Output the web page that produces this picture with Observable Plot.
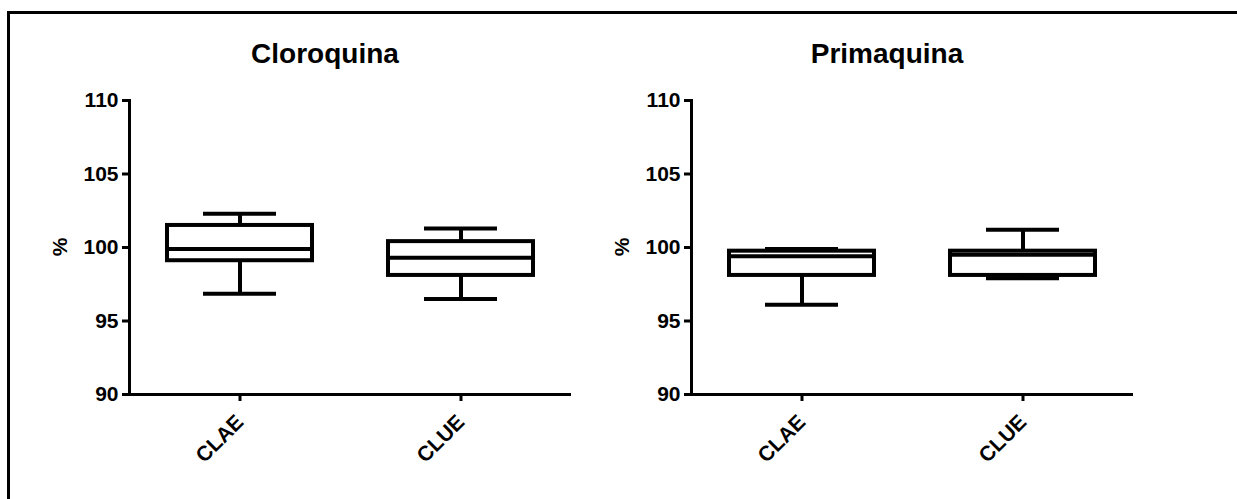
<!DOCTYPE html>
<html>
<head>
<meta charset="utf-8">
<script src="https://cdn.jsdelivr.net/npm/d3@7"></script>
<script src="https://cdn.jsdelivr.net/npm/@observablehq/plot@0.6"></script>
<style>
  html, body { margin: 0; padding: 0; background: white; overflow: hidden; }
  #root { position: relative; width: 1237px; height: 499px; overflow: hidden; font-family: "Liberation Sans", Arial, sans-serif; }
  #frameTop { position: absolute; left: 7px; top: 11px; width: 1230px; height: 3px; background: black; }
  #frameLeft { position: absolute; left: 7px; top: 11px; width: 3px; height: 488px; background: black; }
  .title { position: absolute; top: 40px; width: 300px; text-align: center; font-size: 28px; font-weight: bold; line-height: 27px; color: black; }
  .ylab { position: absolute; width: 40px; text-align: center; font-size: 21px; font-weight: bold; line-height: 21px; transform: translate(-50%, -50%) rotate(-90deg); color: black; }
  .panel { position: absolute; top: 0; max-width: none !important; }
</style>
</head>
<body>
<div id="root"><div id="frameTop"></div><div id="frameLeft"></div></div>
<script>
// ---- data ----
const panels = ["Cloroquina", "Primaquina"];
const categories = ["CLAE", "CLUE"];
const yTicks = [90, 95, 100, 105, 110];
const yLabel = "%";

const cloroquinaMin    = [96.85, 96.5];
const cloroquinaQ1     = [99.1, 98.1];
const cloroquinaMedian = [99.9, 99.3];
const cloroquinaQ3     = [101.5, 100.4];
const cloroquinaMax    = [102.3, 101.3];

const primaquinaMin    = [96.1, 97.9];
const primaquinaQ1     = [98.1, 98.1];
const primaquinaMedian = [99.4, 99.5];
const primaquinaQ3     = [99.75, 99.75];
const primaquinaMax    = [99.9, 101.2];

const series = [
  {min: cloroquinaMin, q1: cloroquinaQ1, med: cloroquinaMedian, q3: cloroquinaQ3, max: cloroquinaMax},
  {min: primaquinaMin, q1: primaquinaQ1, med: primaquinaMedian, q3: primaquinaQ3, max: primaquinaMax}
];

const root = document.getElementById("root");
const offsets = [0, 562];

panels.forEach((name, i) => {
  const s = series[i];
  const rows = categories.map((c, j) => ({cat: c, min: s.min[j], q1: s.q1[j], med: s.med[j], q3: s.q3[j], max: s.max[j]}));
  const sw = 4;
  const chart = Plot.plot({
    width: 600,
    height: 499,
    marginLeft: 129,
    marginRight: 29,
    marginTop: 100,
    marginBottom: 105,
    style: {background: "transparent", fontFamily: "'Liberation Sans', Arial, sans-serif", fontSize: "21px", fontWeight: "bold", color: "black", overflow: "visible"},
    x: {domain: categories, padding: 0},
    y: {domain: [90, 110]},
    marks: [
      Plot.axisY({ticks: yTicks, tickSize: 7, tickPadding: 4, strokeWidth: 3, label: null, fontSize: 21, fontWeight: "bold"}),
      Plot.axisX({tickSize: 7, tickPadding: 17, tickRotate: -45, strokeWidth: 3, label: null, fontSize: 21, fontWeight: "bold"}),
      Plot.frame({anchor: "left", stroke: "black", strokeWidth: 3}),
      Plot.ruleY([90], {stroke: "black", strokeWidth: 3}),
      Plot.ruleX(rows, {x: "cat", y1: "q3", y2: "max", stroke: "black", strokeWidth: sw}),
      Plot.ruleX(rows, {x: "cat", y1: "q1", y2: "min", stroke: "black", strokeWidth: sw}),
      Plot.barY(rows, {x: "cat", y1: "q1", y2: "q3", fill: "white", stroke: "black", strokeWidth: sw, insetLeft: 38, insetRight: 38}),
      Plot.tickY(rows, {x: "cat", y: "med", stroke: "black", strokeWidth: sw, insetLeft: 38, insetRight: 38}),
      Plot.tickY(rows, {x: "cat", y: "max", stroke: "black", strokeWidth: sw, insetLeft: 74, insetRight: 74}),
      Plot.tickY(rows, {x: "cat", y: "min", stroke: "black", strokeWidth: sw, insetLeft: 74, insetRight: 74})
    ]
  });
  chart.classList.add("panel");
  chart.style.left = offsets[i] + "px";
  root.appendChild(chart);

  const t = document.createElement("div");
  t.className = "title";
  t.textContent = name;
  t.style.left = (offsets[i] + 325 - 150) + "px";
  root.appendChild(t);

  const yl = document.createElement("div");
  yl.className = "ylab";
  yl.textContent = yLabel;
  yl.style.left = (offsets[i] + 59) + "px";
  yl.style.top = "247px";
  root.appendChild(yl);
});
</script>
</body>
</html>
